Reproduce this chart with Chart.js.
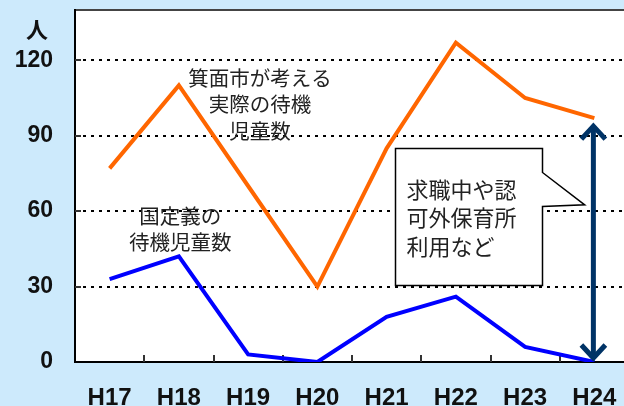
<!DOCTYPE html>
<html>
<head>
<meta charset="utf-8">
<script src="https://cdn.jsdelivr.net/npm/chart.js@4.4.1/dist/chart.umd.min.js"></script>
<style>
html, body { margin: 0; padding: 0; overflow: hidden; background: #cdeafc; }
#wrap { width: 634px; height: 406px; }
</style>
</head>
<body>
<div id="wrap"><canvas id="grafico" width="634" height="406"></canvas></div>
<script>
const anos = ['H17', 'H18', 'H19', 'H20', 'H21', 'H22', 'H23', 'H24'];
const minohCount = [77, 110, 70, 30, 85, 127, 105, 97];
const nationalCount = [33, 42, 3, 0, 18, 26, 6, 0];
const yTicks = [0, 30, 60, 90, 120];
const yUnit = '人';

const minohLabel = ['箕面市が考える', '実際の待機', '児童数'];
const nationalLabel = ['国定義の', '待機児童数'];
const calloutLines = ['求職中や認', '可外保育所', '利用など'];

const jpFont = '"Noto Sans CJK JP", sans-serif';
const numFont = '"Liberation Sans", Arial, sans-serif';

const decor = {
    id: 'decor',
    beforeDraw(chart) {
        const { ctx, chartArea: a } = chart;
        ctx.save();
        ctx.fillStyle = '#ffffff';
        ctx.fillRect(a.left, a.top, a.right - a.left, a.bottom - a.top);
        ctx.restore();
    },
    beforeDatasetsDraw(chart) {
        const { ctx, chartArea: a, scales } = chart;
        const x = scales.x, y = scales.y;
        const step = x.getPixelForValue(1) - x.getPixelForValue(0);
        ctx.save();
        ctx.lineWidth = 2;
        ctx.strokeStyle = '#444';
        ctx.beginPath();
        ctx.moveTo(a.left, a.top);
        ctx.lineTo(a.right + 10, a.top);
        ctx.stroke();

        ctx.strokeStyle = '#000';
        ctx.beginPath();
        ctx.moveTo(a.left, a.top - 1);
        ctx.lineTo(a.left, a.bottom);
        ctx.lineTo(a.right + 10, a.bottom);
        ctx.stroke();

        // small tick marks
        ctx.strokeStyle = '#333';
        for (let i = 0; i < anos.length; i++) {
            const px = Math.round(x.getPixelForValue(i) + step / 2);
            ctx.beginPath();
            ctx.moveTo(px, a.bottom);
            ctx.lineTo(px, a.bottom - 7);
            ctx.stroke();
        }
        yTicks.slice(1).forEach(v => {
            const py = Math.round(y.getPixelForValue(v));
            ctx.beginPath();
            ctx.moveTo(a.left, py);
            ctx.lineTo(a.left + 6, py);
            ctx.stroke();
        });
        ctx.restore();
    },
    afterDatasetsDraw(chart) {
        const { ctx, scales } = chart;
        const x = scales.x, y = scales.y;
        const step = x.getPixelForValue(1) - x.getPixelForValue(0);
        const px = i => x.getPixelForValue(0) + i * step;

        ctx.save();
        ctx.fillStyle = '#222';
        ctx.textAlign = 'center';
        ctx.textBaseline = 'middle';
        ctx.font = '20.5px ' + jpFont;
        minohLabel.forEach((t, k) => ctx.fillText(t, px(2.17), y.getPixelForValue(113) + k * 26.5));
        nationalLabel.forEach((t, k) => ctx.fillText(t, px(1.02), y.getPixelForValue(57.8) + k * 26));

        // callout box
        const bl = Math.round(px(4.12)) + 0.5, br = Math.round(px(6.24)) + 0.5;
        const bt = Math.round(y.getPixelForValue(85)) + 0.5, bb = Math.round(y.getPixelForValue(30.6)) + 0.5;
        const tipX = px(6.86), tipY = y.getPixelForValue(62.5);
        ctx.beginPath();
        ctx.moveTo(bl, bt);
        ctx.lineTo(br, bt);
        ctx.lineTo(br, bt + 24);
        ctx.lineTo(tipX, tipY);
        ctx.lineTo(br, bt + 58);
        ctx.lineTo(br, bb);
        ctx.lineTo(bl, bb);
        ctx.closePath();
        ctx.fillStyle = '#fff';
        ctx.fill();
        ctx.lineWidth = 1.5;
        ctx.strokeStyle = '#000';
        ctx.stroke();

        ctx.fillStyle = '#222';
        ctx.textAlign = 'left';
        ctx.font = '22px ' + jpFont;
        calloutLines.forEach((t, k) => ctx.fillText(t, bl + 11, bt + 41 + k * 28.5));

        // double arrow between the two H24 values
        const last = anos.length - 1;
        const ax = x.getPixelForValue(last) - 1;
        const aTop = y.getPixelForValue(minohCount[last]) + 6;
        const aBot = y.getPixelForValue(nationalCount[last]) - 2;
        ctx.strokeStyle = '#003366';
        ctx.lineWidth = 5;
        ctx.lineJoin = 'miter';
        ctx.lineCap = 'butt';
        ctx.beginPath();
        ctx.moveTo(ax, aTop + 2);
        ctx.lineTo(ax, aBot - 2);
        ctx.stroke();
        ctx.beginPath();
        ctx.moveTo(ax - 12, aTop + 15);
        ctx.lineTo(ax, aTop + 2);
        ctx.lineTo(ax + 12, aTop + 15);
        ctx.stroke();
        ctx.beginPath();
        ctx.moveTo(ax - 12, aBot - 15);
        ctx.lineTo(ax, aBot - 2);
        ctx.lineTo(ax + 12, aBot - 15);
        ctx.stroke();

        // unit label
        ctx.fillStyle = '#111';
        ctx.textAlign = 'center';
        ctx.font = 'bold 22px ' + jpFont;
        ctx.fillText(yUnit, 37, 30);
        ctx.restore();
    }
};

const ctx = document.getElementById('grafico').getContext('2d');
const chart = new Chart(ctx, {
    type: 'line',
    data: {
        labels: anos,
        datasets: [
            {
                label: '箕面市が考える実際の待機児童数',
                data: minohCount,
                borderColor: '#ff6600',
                borderWidth: 4,
                pointRadius: 0,
                tension: 0
            },
            {
                label: '国定義の待機児童数',
                data: nationalCount,
                borderColor: '#0000ff',
                borderWidth: 4,
                pointRadius: 0,
                tension: 0
            }
        ]
    },
    options: {
        responsive: false,
        animation: false,
        layout: { padding: { top: 10, right: 5, left: 0, bottom: 0 } },
        plugins: {
            legend: { display: false },
            tooltip: { enabled: false }
        },
        scales: {
            x: {
                offset: true,
                grid: { display: false },
                border: { display: false },
                ticks: {
                    color: '#111',
                    padding: 14,
                    font: { family: numFont, size: 24, weight: 'bold' }
                },
                afterFit: s => { s.height = 44; s.paddingLeft = 0; s.paddingRight = 0; }
            },
            y: {
                min: 0,
                max: 140,
                afterBuildTicks: s => { s.ticks = yTicks.map(v => ({ value: v })); },
                grid: { color: '#000', lineWidth: 2, drawTicks: false },
                border: { display: false, dash: [3, 5] },
                ticks: {
                    color: '#111',
                    padding: 22,
                    font: { family: numFont, size: 23, weight: 'bold' }
                },
                afterFit: s => { s.width = 75; s.paddingTop = 0; s.paddingBottom = 0; }
            }
        }
    },
    plugins: [decor]
});
</script>
</body>
</html>
